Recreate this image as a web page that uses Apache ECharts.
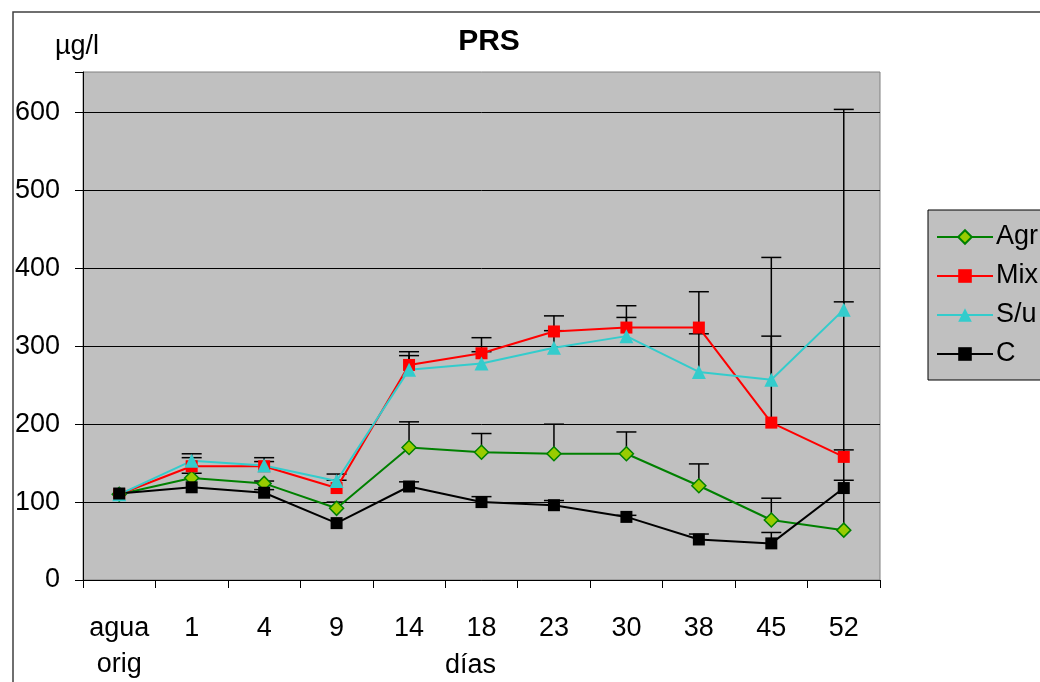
<!DOCTYPE html>
<html>
<head>
<meta charset="utf-8">
<script src="https://cdn.jsdelivr.net/npm/echarts@6/dist/echarts.min.js"></script>
<style>
html,body{margin:0;padding:0;background:#fff;}
#chart{width:1040px;height:682px;}
</style>
</head>
<body>
<div id="chart"></div>
<script>
var categories = ['agua\norig', '1', '4', '9', '14', '18', '23', '30', '38', '45', '52'];
var yTicks = [0, 100, 200, 300, 400, 500, 600];

var agrValues = [110, 131, 124, 92, 170, 164, 162, 162, 121, 77, 64];
var mixValues = [110, 146, 146, 118, 276, 291, 319, 324, 324, 202, 158];
var suValues  = [110, 153, 147, 127, 270, 278, 298, 313, 267, 257, 347];
var cValues   = [111, 119, 112, 73, 120, 100, 96, 81, 52, 47, 118];

// upper ends of the error bars (null = none visible)
var agrErrTop = [null, 137, 127, 100, 203, 188, 200, 190, 149, 105, 604];
var mixErrTop = [null, 157, 152, 128, 293, 311, 339, 352, 370, 414, 167];
var suErrTop  = [null, 162, 157, 136, 288, 293, 320, 337, 316, 313, 357];
var cErrTop   = [null, null, 116, null, 126, 107, 102, 83, 59, 61, 128];

var FONT = '"Liberation Sans", Arial, sans-serif';

function errData(vals, tops) {
  var out = [];
  for (var i = 0; i < vals.length; i++) {
    if (tops[i] != null) out.push([i, vals[i], tops[i]]);
  }
  return out;
}
var allErr = [].concat(
  errData(agrValues, agrErrTop),
  errData(mixValues, mixErrTop),
  errData(suValues, suErrTop),
  errData(cValues, cErrTop)
);

var chart = echarts.init(document.getElementById('chart'));
var option = {
  animation: false,
  backgroundColor: '#fff',
  textStyle: { fontFamily: FONT },
  graphic: [
    { type: 'rect', z: -10, shape: { x: 13, y: 12, width: 1100, height: 800 },
      style: { fill: 'none', stroke: '#404040', lineWidth: 1.5 } },
    { type: 'text', left: 55, top: 33,
      style: { text: 'µg/l', font: '27px ' + FONT, fill: '#000' } }
  ],
  title: {
    text: 'PRS', left: 484, top: 22, textAlign: 'center',
    textStyle: { fontFamily: FONT, fontWeight: 'bold', fontSize: 30, color: '#000' }
  },
  legend: {
    orient: 'vertical', left: 928, top: 210,
    padding: [12, 60, 11, 8],
    backgroundColor: '#c0c0c0', borderColor: '#000', borderWidth: 1, borderRadius: 0,
    itemWidth: 56, itemHeight: 17, itemGap: 9,
    textStyle: { fontFamily: FONT, fontSize: 27, color: '#000', lineHeight: 30, padding: [0,0,0,-2] },
    data: ['Agr', 'Mix', 'S/u', 'C']
  },
  grid: {
    left: 83, right: 160, top: 72, bottom: 102,
    outerBoundsMode: 'none', containLabel: false,
    show: true, backgroundColor: '#c0c0c0', borderColor: '#808080', borderWidth: 1
  },
  xAxis: {
    type: 'category', data: categories, boundaryGap: true,
    name: 'días', nameLocation: 'middle', nameGap: 68, nameMoveOverlap: false,
    nameTextStyle: { fontFamily: FONT, fontSize: 27, color: '#000', lineHeight: 36, padding: [0, 22, 0, 0] },
    axisLine: { lineStyle: { color: '#000', width: 1 } },
    axisTick: { show: true, alignWithLabel: false, length: 8, lineStyle: { color: '#000' } },
    axisLabel: { fontFamily: FONT, fontSize: 27, color: '#000', lineHeight: 36, margin: 31, interval: 0 },
    splitLine: { show: false }
  },
  yAxis: {
    type: 'value', min: 0, max: 652, interval: 100,
    axisLine: { show: true, lineStyle: { color: '#000', width: 1 } },
    axisTick: { show: true, length: 8, lineStyle: { color: '#000' } },
    axisLabel: {
      fontFamily: FONT, fontSize: 27, color: '#000', margin: 23,
      formatter: function (v) { return yTicks.indexOf(v) >= 0 ? String(v) : ''; }
    },
    splitLine: { show: true, showMaxLine: false, lineStyle: { color: '#000', width: 1 } }
  },
  series: [
    {
      type: 'custom', name: 'err', z: 1, silent: true,
      data: allErr,
      encode: { x: 0, y: [1, 2] },
      renderItem: function (params, api) {
        var x = api.value(0), lo = api.value(1), hi = api.value(2);
        var p1 = api.coord([x, lo]), p2 = api.coord([x, hi]);
        var w = 10;
        return {
          type: 'group', children: [
            { type: 'line', shape: { x1: p1[0], y1: p1[1], x2: p2[0], y2: p2[1] },
              style: { stroke: '#000', lineWidth: 1.5 } },
            { type: 'line', shape: { x1: p2[0] - w, y1: p2[1], x2: p2[0] + w, y2: p2[1] },
              style: { stroke: '#000', lineWidth: 1.5 } }
          ]
        };
      }
    },
    {
      type: 'line', name: 'Agr', data: agrValues, z: 3,
      symbol: 'diamond', symbolSize: 14, showAllSymbol: true,
      lineStyle: { color: '#008000', width: 2 },
      itemStyle: { color: '#99cc00', borderColor: '#008000', borderWidth: 1.5 }
    },
    {
      type: 'line', name: 'Mix', data: mixValues, z: 3,
      symbol: 'rect', symbolSize: 12, showAllSymbol: true,
      lineStyle: { color: '#ff0000', width: 2 },
      itemStyle: { color: '#ff0000', borderColor: '#ff0000', borderWidth: 0 }
    },
    {
      type: 'line', name: 'S/u', data: suValues, z: 3,
      symbol: 'triangle', symbolSize: 14, showAllSymbol: true,
      lineStyle: { color: '#33cccc', width: 2 },
      itemStyle: { color: '#33cccc', borderColor: '#33cccc', borderWidth: 0 }
    },
    {
      type: 'line', name: 'C', data: cValues, z: 3,
      symbol: 'rect', symbolSize: 12, showAllSymbol: true,
      lineStyle: { color: '#000000', width: 2 },
      itemStyle: { color: '#000000', borderColor: '#000000', borderWidth: 0 }
    }
  ]
};
chart.setOption(option);
</script>
</body>
</html>
